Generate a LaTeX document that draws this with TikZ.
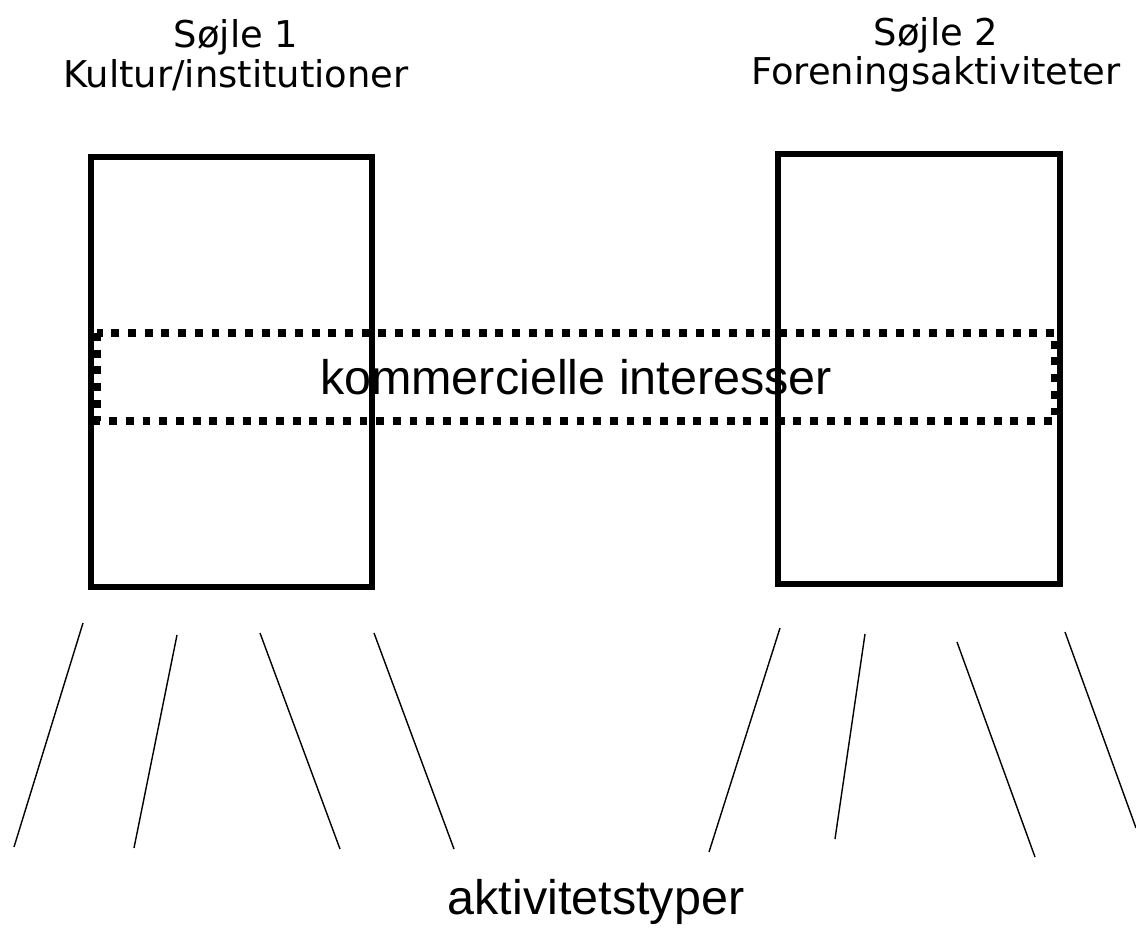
\documentclass[tikz,border=0pt]{standalone}
\usepackage{fontspec}
\setmainfont{Liberation Sans}
\newfontfamily\verdana{DejaVu Sans}
\begin{document}
\begin{tikzpicture}[x=0.02cm,y=-0.02cm,
	pillar/.style={line width=2.9pt},
	band/.style={line width=4.5pt,dash pattern=on 4.5pt off 5pt},
	leg/.style={line width=0.8pt},
	title/.style={align=center,font=\verdana\fontsize{21}{22.5}\selectfont}]
	\useasboundingbox (0,0) rectangle (1136,940);
	\node[title] (t1) at (236,55) {Søjle 1\\Kultur/institutioner};
	\node[title] (t2) at (936,55) {Søjle 2\\Foreningsaktiviteter};
	\draw[pillar] (91,157) rectangle (372,587);
	\draw[pillar] (778,154) rectangle (1060,584);
	\draw[band] (97,333) rectangle (1055,421);
	\node[font=\fontsize{27.6}{30}\selectfont] (k) at (576,377) {kommercielle interesser};
	\draw[leg] (83,623)--(14,847);
	\draw[leg] (177,635)--(134,848);
	\draw[leg] (260,633)--(340,849);
	\draw[leg] (374,633)--(454,849);
	\draw[leg] (780,628)--(709,852);
	\draw[leg] (865,634)--(835,839);
	\draw[leg] (957,642)--(1035,857);
	\draw[leg] (1065,632)--(1136,828);
	\node[font=\fontsize{27.6}{30}\selectfont] (a) at (596,902) {aktivitetstyper};
\end{tikzpicture}
\end{document}
